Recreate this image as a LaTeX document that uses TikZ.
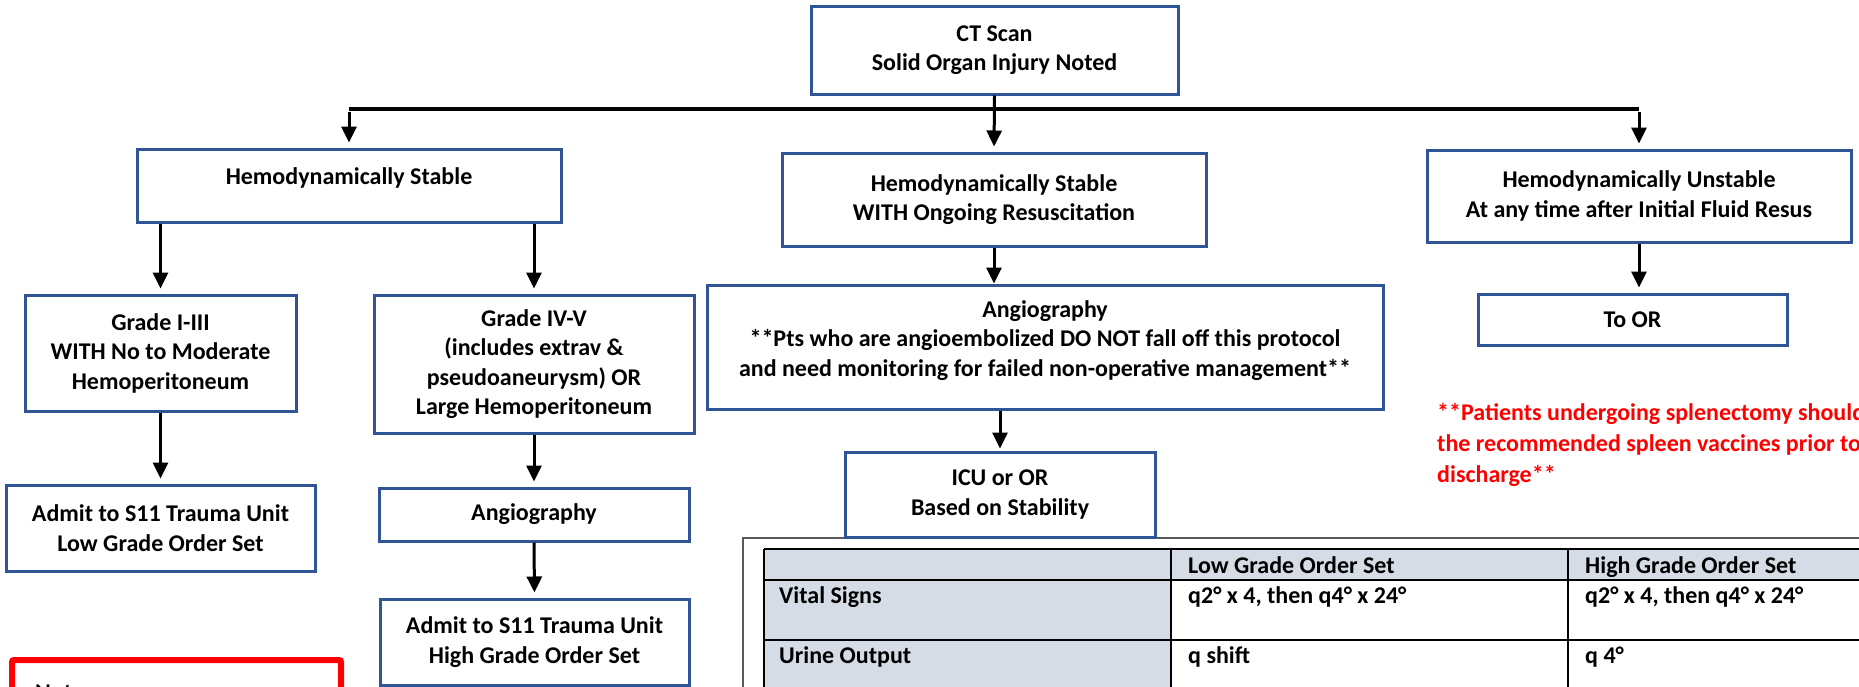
\documentclass[tikz,border=0pt]{standalone}
\usepackage{fontspec}
\setmainfont{Carlito}
\usetikzlibrary{arrows.meta,positioning}
\definecolor{boxblue}{HTML}{2F5597}
\definecolor{cellgray}{HTML}{D6DCE5}
\definecolor{framegray}{HTML}{595959}
\definecolor{notered}{HTML}{FF0000}

\tikzset{
  flowbox/.style={draw=boxblue, line width=3pt, fill=white, align=center,
    inner sep=0pt, font=\bfseries\fontsize{24}{29.5}\selectfont},
  arr/.style={line width=3pt, -{Triangle[length=16pt,width=15pt]}, shorten >=5pt},
  bus/.style={line width=4pt},
  celltext/.style={anchor=base west, inner sep=0pt, font=\bfseries\fontsize{24}{29}\selectfont}
}

\begin{document}
\begin{tikzpicture}[x=1pt, y=-1pt]
        \useasboundingbox (0,0) rectangle (1859,686);
        \clip (0,0) rectangle (1859,686);
        % order set table
        \fill[cellgray] (764,549) rectangle (1900,580);
        \fill[cellgray] (764,580) rectangle (1171,700);
        \foreach \y in {549, 580, 640}{
            \draw[line width=2.5pt] (764,\y) -- (1900,\y);
        }
        \foreach \x in {764, 1171, 1568}{
            \draw[line width=2.5pt] (\x,549) -- (\x,700);
        }
        \draw[framegray, line width=2pt] (743,700) -- (743,538) -- (1900,538);
        \node[celltext] (lowhead) at (1188,573) {Low Grade Order Set};
        \node[celltext] (highhead) at (1585,573) {High Grade Order Set};
        \node[celltext] (vitals) at (779,603) {Vital Signs};
        \node[celltext] (vitlow) at (1188,603) {q2° x 4, then q4° x 24°};
        \node[celltext] (vithigh) at (1585,603) {q2° x 4, then q4° x 24°};
        \node[celltext] (urine) at (779,663) {Urine Output};
        \node[celltext] (urilow) at (1188,663) {q shift};
        \node[celltext] (urihigh) at (1585,663) {q 4°};
        % flow boxes
        \node[flowbox, minimum width=367pt, minimum height=88pt] (ct) at (994.5,50)
            {CT Scan\\Solid Organ Injury Noted};
        \node[flowbox, minimum width=424pt, minimum height=73pt, text height=17pt, text depth=19pt]
            (stable) at (349,185.5) {Hemodynamically Stable};
        \node[flowbox, minimum width=424pt, minimum height=93pt] (resus) at (994,199.5)
            {Hemodynamically Stable\\WITH Ongoing Resuscitation};
        \node[flowbox, minimum width=424pt, minimum height=92pt] (unstable) at (1639,196)
            {Hemodynamically Unstable\\At any time after Initial Fluid Resus};
        \node[flowbox, minimum width=309pt, minimum height=51pt] (toor) at (1632.5,319.5) {To OR};
        \node[flowbox, minimum width=271pt, minimum height=116pt] (lowgrade) at (160.5,353)
            {Grade I-III\\WITH No to Moderate\\Hemoperitoneum};
        \node[flowbox, minimum width=320pt, minimum height=138pt] (highgrade) at (534,364)
            {Grade IV-V\\(includes extrav \&\\pseudoaneurysm) OR\\Large Hemoperitoneum};
        \node[flowbox, minimum width=676pt, minimum height=124pt, text depth=17pt] (angiobig) at (1045,347)
            {Angiography\\**Pts who are angioembolized DO NOT fall off this protocol\\and need monitoring for failed non-operative management**};
        \node[flowbox, minimum width=309pt, minimum height=86pt] (admitlow) at (160.5,528)
            {Admit to S11 Trauma Unit\\Low Grade Order Set};
        \node[flowbox, minimum width=310pt, minimum height=53pt] (angiosmall) at (534,514.5) {Angiography};
        \node[flowbox, minimum width=309pt, minimum height=86pt] (admithigh) at (534.5,642)
            {Admit to S11 Trauma Unit\\High Grade Order Set};
        \node[flowbox, minimum width=310pt, minimum height=85pt] (icu) at (1000,494.5)
            {ICU or OR\\Based on Stability};
        % notes and splenectomy remark
        \node[draw=notered, line width=6pt, rounded corners=2pt, minimum width=329pt,
            minimum height=120pt] (notes) at (176.5,720) {};
        \node[anchor=base west, inner sep=0pt, font=\bfseries\fontsize{24}{29}\selectfont]
            (notestitle) at (35,700) {Notes:};
        \node[anchor=west, inner sep=0pt, align=left, text=notered,
            font=\bfseries\fontsize{24}{31}\selectfont] (spleen) at (1437,445)
            {**Patients undergoing splenectomy should\\the recommended spleen vaccines prior to\\discharge**};
        % bus and arrows
        \coordinate (busy) at (0,109);
        \draw[bus] (stable.north |- busy) -- (unstable.north |- busy);
        \draw[arr, shorten <=3pt] (stable.north |- busy) -- (stable.north);
        \draw[arr, shorten <=3pt] (unstable.north |- busy) -- (unstable.north);
        \draw[arr] (ct.south) -- (resus.north);
        \draw[arr] (stable.south -| lowgrade.north) -- (lowgrade.north);
        \draw[arr] (stable.south -| highgrade.north) -- (highgrade.north);
        \draw[arr] (lowgrade.south) -- (admitlow.north);
        \draw[arr] (highgrade.south) -- (angiosmall.north);
        \draw[arr] (angiosmall.south) -- (admithigh.north);
        \draw[arr, shorten >=0pt] (resus.south) -- (resus.south |- angiobig.north);
        \draw[arr, shorten >=2pt] (angiobig.south -| icu.north) -- (icu.north);
        \draw[arr] (unstable.south) -- (unstable.south |- toor.north);
\end{tikzpicture}
\end{document}
